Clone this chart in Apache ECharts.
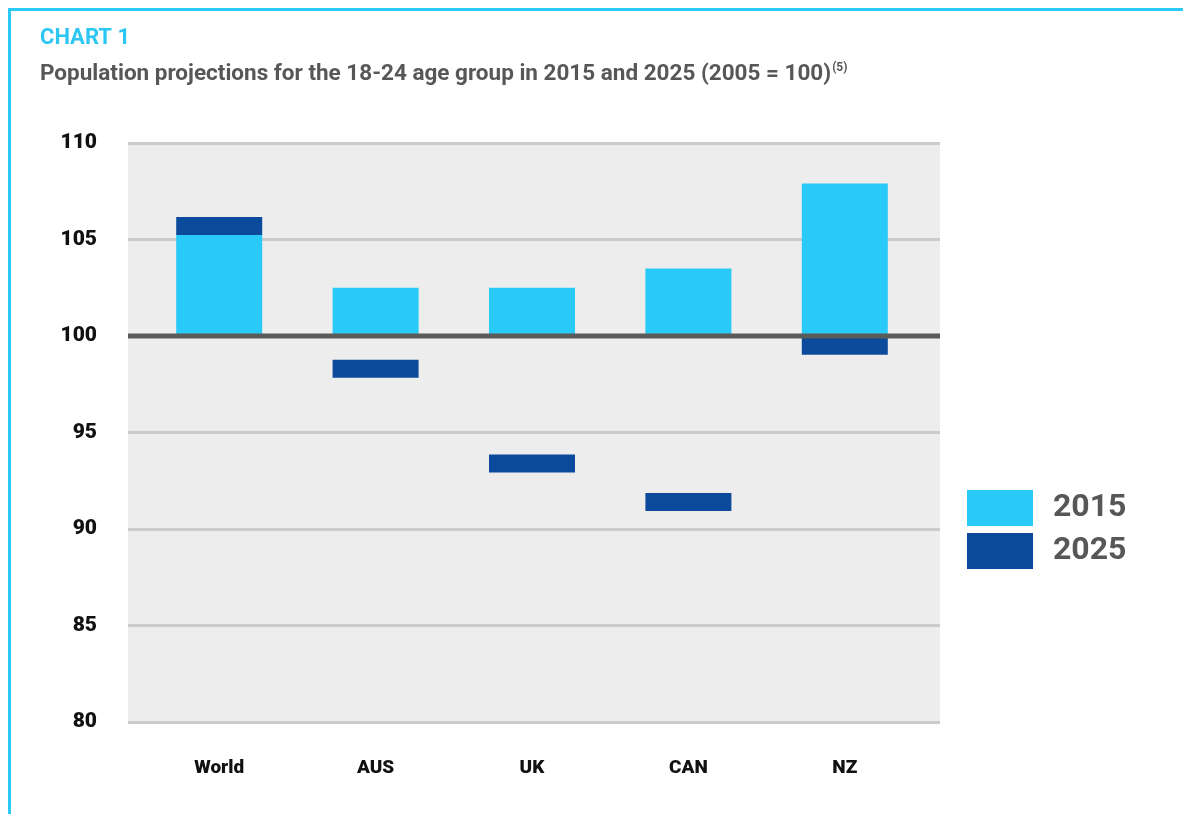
<!DOCTYPE html>
<html>
<head>
<meta charset="utf-8">
<title>Chart 1</title>
<script src="https://cdn.jsdelivr.net/npm/echarts@6/dist/echarts.min.js"></script>
<style>
  html, body { margin: 0; padding: 0; background: #fff; }
  #frame {
    position: absolute; left: 8px; top: 8px; right: 0; bottom: 0;
    border-top: 3px solid #2bc9f5; border-left: 3px solid #2bc9f5;
  }
  #chart { position: absolute; left: 0; top: 0; width: 1183px; height: 814px; }
</style>
</head>
<body>
<div id="frame"></div>
<div id="chart"></div>
<script>
  const categories = ['World', 'AUS', 'UK', 'CAN', 'NZ']
  const values2015 = [105.25, 102.5, 102.5, 103.5, 107.9]
  const values2025 = [105.7, 98.3, 93.4, 91.4, 99.5]
  const baseValue = 100
  const yTicks = [80, 85, 90, 95, 100, 105, 110]

  const FONT = 'Roboto, "Liberation Sans", sans-serif'
  const LIGHT = '#29caf7'
  const DARK = '#0c4b9b'
  const GREY_TEXT = '#575757'

  const yMin = yTicks[0]
  const yMax = yTicks[yTicks.length - 1]
  const yStep = yTicks[1] - yTicks[0]

  const chart = echarts.init(document.getElementById('chart'))

  chart.setOption({
    animation: false,
    textStyle: { fontFamily: FONT },

    title: [
      {
        text: 'CHART 1',
        left: 35,
        top: 22,
        textStyle: { color: '#2bc6f2', fontSize: 22, fontWeight: 'bold', fontFamily: FONT }
      },
      {
        text: '{t|Population projections for the 18-24 age group in 2015 and 2025 (2005 = 100)}{s|(5)}',
        left: 35,
        top: 57,
        textStyle: {
          rich: {
            t: { color: GREY_TEXT, fontSize: 22.5, fontWeight: 'bold', fontFamily: FONT, lineHeight: 24 },
            s: { color: GREY_TEXT, fontSize: 12, fontWeight: 'bold', fontFamily: FONT, verticalAlign: 'top', lineHeight: 24, padding: [0, 0, 12, 1] }
          }
        }
      }
    ],

    legend: {
      data: ['2015', '2025'],
      orient: 'vertical',
      left: 967,
      top: 490,
      padding: 0,
      icon: 'rect',
      itemWidth: 66,
      itemHeight: 36,
      itemGap: 7,
      textStyle: {
        color: GREY_TEXT,
        fontSize: 32,
        fontWeight: 'bold',
        fontFamily: FONT,
        padding: [7, 0, 0, 15]
      }
    },

    // grid 0 carries the grey panel, gridlines and y labels; grid 1 holds the bars
    grid: [
      { left: 128, right: 243, top: 143, bottom: 92, show: true, backgroundColor: '#ededed', borderWidth: 0 },
      { left: 141, right: 260, top: 143, bottom: 92 }
    ],

    xAxis: [
      { gridIndex: 0, type: 'value', min: 0, max: 1, show: false },
      {
        gridIndex: 1,
        type: 'category',
        data: categories,
        axisLine: { show: false },
        axisTick: { show: false },
        axisLabel: { color: '#111', fontSize: 19, fontWeight: 900, fontFamily: FONT, margin: 37 }
      }
    ],

    yAxis: [
      {
        gridIndex: 0,
        type: 'value',
        min: yMin,
        max: yMax,
        interval: yStep,
        axisLine: { show: false },
        axisTick: { show: false },
        axisLabel: { color: '#111', fontSize: 21, fontWeight: 900, fontFamily: FONT, margin: 31 },
        splitLine: { show: true, lineStyle: { color: '#cbcbcb', width: 3 } }
      },
      {
        gridIndex: 1,
        type: 'value',
        min: yMin,
        max: yMax,
        interval: yStep,
        show: false,
        splitLine: { show: false }
      }
    ],

    series: [
      {
        name: 'base',
        type: 'bar',
        xAxisIndex: 1,
        yAxisIndex: 1,
        stack: 'a',
        barWidth: 86,
        silent: true,
        itemStyle: { color: 'transparent' },
        data: values2015.map(() => baseValue)
      },
      {
        name: '2015',
        type: 'bar',
        xAxisIndex: 1,
        yAxisIndex: 1,
        stack: 'a',
        barWidth: 86,
        z: 2,
        itemStyle: { color: LIGHT },
        data: values2015.map(v => v - baseValue)
      },
      {
        name: '2025',
        type: 'scatter',
        xAxisIndex: 1,
        yAxisIndex: 1,
        symbol: 'rect',
        symbolSize: [86, 18],
        z: 3,
        itemStyle: { color: DARK, opacity: 1 },
        data: values2025
      },
      {
        name: 'baseline',
        type: 'line',
        xAxisIndex: 0,
        yAxisIndex: 0,
        symbol: 'none',
        silent: true,
        z: 5,
        lineStyle: { color: '#5a5a58', width: 5 },
        data: [[0, baseValue], [1, baseValue]]
      }
    ]
  })
</script>
</body>
</html>
